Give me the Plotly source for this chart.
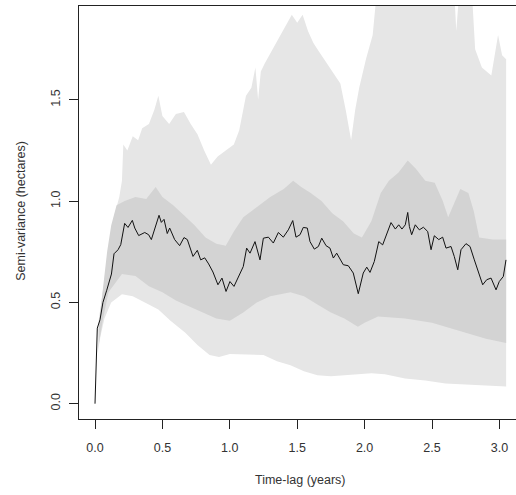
import plotly.graph_objects as go

# Mean semi-variance curve
lag = [0.0, 0.005, 0.013, 0.017, 0.037, 0.059, 0.087, 0.122, 0.141, 0.171, 0.191, 0.220, 0.245, 0.277, 0.295,
       0.324, 0.369, 0.398, 0.418, 0.443, 0.475, 0.492, 0.512, 0.536, 0.554, 0.591, 0.628, 0.660, 0.685, 0.727,
       0.759, 0.784, 0.814, 0.843, 0.875, 0.912, 0.942, 0.972, 1.001, 1.031, 1.063, 1.100, 1.125, 1.150, 1.187,
       1.224, 1.249, 1.286, 1.323, 1.360, 1.397, 1.434, 1.467, 1.491, 1.521, 1.545, 1.575, 1.595, 1.627, 1.657,
       1.682, 1.714, 1.743, 1.768, 1.793, 1.818, 1.842, 1.879, 1.916, 1.953, 1.990, 2.016, 2.040, 2.072, 2.105,
       2.134, 2.164, 2.196, 2.228, 2.253, 2.277, 2.302, 2.320, 2.332, 2.349, 2.376, 2.406, 2.436, 2.468, 2.493,
       2.517, 2.550, 2.579, 2.604, 2.641, 2.665, 2.691, 2.715, 2.752, 2.782, 2.814, 2.846, 2.876, 2.906, 2.938,
       2.975, 2.999, 3.029, 3.049]
semivar = [0.0, 0.094, 0.275, 0.373, 0.414, 0.50, 0.56, 0.64, 0.74, 0.76, 0.785, 0.89, 0.87, 0.905, 0.867,
           0.83, 0.845, 0.834, 0.81, 0.86, 0.93, 0.895, 0.91, 0.84, 0.867, 0.81, 0.78, 0.82, 0.81, 0.727,
           0.757, 0.71, 0.72, 0.69, 0.65, 0.587, 0.62, 0.554, 0.603, 0.579, 0.628, 0.677, 0.768, 0.743, 0.80,
           0.71, 0.817, 0.822, 0.793, 0.845, 0.822, 0.858, 0.904, 0.822, 0.834, 0.87, 0.867, 0.80, 0.763, 0.776,
           0.817, 0.78, 0.768, 0.719, 0.743, 0.71, 0.686, 0.681, 0.645, 0.543, 0.645, 0.674, 0.648, 0.702, 0.80,
           0.784, 0.842, 0.894, 0.862, 0.883, 0.862, 0.883, 0.944, 0.875, 0.834, 0.883, 0.858, 0.871, 0.85, 0.76,
           0.829, 0.81, 0.822, 0.768, 0.776, 0.727, 0.661, 0.76, 0.79, 0.776, 0.71, 0.645, 0.587, 0.612, 0.62,
           0.562, 0.603, 0.628, 0.71]

# Outer envelope (light grey)
outer_up_x = [0.02, 0.04, 0.07, 0.10, 0.14, 0.18, 0.20, 0.21, 0.24, 0.28, 0.32, 0.35, 0.40, 0.44, 0.47, 0.50,
              0.55, 0.60, 0.66, 0.71, 0.76, 0.81, 0.86, 0.91, 0.97, 1.03, 1.07, 1.12, 1.16, 1.19, 1.21, 1.23,
              1.26, 1.31, 1.36, 1.41, 1.46, 1.50, 1.54, 1.58, 1.62, 1.66, 1.70, 1.76, 1.82, 1.86, 1.90, 1.93,
              1.96, 2.01, 2.06, 2.10, 2.66, 2.68, 2.71, 2.79, 2.82, 2.87, 2.94, 2.99, 3.02, 3.05]
outer_up_y = [0.38, 0.47, 0.60, 0.75, 0.92, 1.02, 1.10, 1.28, 1.25, 1.32, 1.30, 1.36, 1.38, 1.45, 1.52, 1.42,
              1.38, 1.43, 1.44, 1.38, 1.33, 1.25, 1.18, 1.22, 1.25, 1.28, 1.35, 1.52, 1.56, 1.66, 1.50, 1.64,
              1.68, 1.74, 1.80, 1.86, 1.92, 1.88, 1.92, 1.84, 1.78, 1.74, 1.70, 1.64, 1.58, 1.45, 1.30, 1.45,
              1.56, 1.70, 1.82, 2.10, 2.10, 1.84, 2.10, 2.10, 1.75, 1.66, 1.62, 1.82, 1.72, 1.70]
outer_lo_x = [0.02, 0.04, 0.07, 0.12, 0.20, 0.28, 0.37, 0.47, 0.56, 0.67, 0.76, 0.85, 0.92, 1.00, 1.10, 1.25,
              1.35, 1.45, 1.55, 1.65, 1.75, 1.85, 1.95, 2.05, 2.15, 2.30, 2.45, 2.60, 2.75, 2.90, 3.05]
outer_lo_y = [0.25, 0.33, 0.42, 0.50, 0.54, 0.53, 0.50, 0.465, 0.41, 0.35, 0.29, 0.24, 0.23, 0.245, 0.245, 0.24,
              0.21, 0.19, 0.16, 0.14, 0.135, 0.14, 0.145, 0.15, 0.145, 0.125, 0.115, 0.10, 0.095, 0.09, 0.085]

# Inner envelope (darker grey)
inner_up_x = [0.03, 0.06, 0.09, 0.12, 0.16, 0.22, 0.30, 0.38, 0.45, 0.50, 0.58, 0.66, 0.74, 0.82, 0.90, 0.97,
              1.03, 1.10, 1.20, 1.30, 1.40, 1.47, 1.53, 1.60, 1.68, 1.76, 1.84, 1.92, 1.98, 2.05, 2.12, 2.18,
              2.25, 2.32, 2.38, 2.45, 2.52, 2.58, 2.62, 2.67, 2.71, 2.77, 2.81, 2.85, 2.95, 3.05]
inner_up_y = [0.40, 0.58, 0.75, 0.88, 0.98, 1.00, 1.02, 1.01, 1.07, 1.02, 0.98, 0.93, 0.88, 0.82, 0.79, 0.78,
              0.85, 0.92, 0.97, 1.02, 1.06, 1.10, 1.07, 1.04, 1.00, 0.94, 0.90, 0.84, 0.82, 0.90, 1.04, 1.10,
              1.14, 1.20, 1.16, 1.10, 1.09, 1.00, 0.92, 1.00, 1.06, 1.04, 0.95, 0.82, 0.81, 0.81]
inner_lo_x = [0.03, 0.06, 0.10, 0.20, 0.30, 0.40, 0.50, 0.60, 0.70, 0.80, 0.90, 1.00, 1.10, 1.20, 1.30, 1.45,
              1.55, 1.65, 1.75, 1.85, 1.95, 2.00, 2.10, 2.30, 2.50, 2.60, 2.70, 2.80, 2.90, 3.05]
inner_lo_y = [0.30, 0.42, 0.55, 0.64, 0.63, 0.58, 0.55, 0.51, 0.48, 0.45, 0.42, 0.41, 0.45, 0.50, 0.53, 0.55,
              0.53, 0.49, 0.45, 0.42, 0.38, 0.40, 0.43, 0.42, 0.40, 0.38, 0.36, 0.34, 0.32, 0.30]

x_ticks = [0.0, 0.5, 1.0, 1.5, 2.0, 2.5, 3.0]
x_tick_text = ["0.0", "0.5", "1.0", "1.5", "2.0", "2.5", "3.0"]
y_ticks = [0.0, 0.5, 1.0, 1.5]
y_tick_text = ["0.0", "0.5", "1.0", "1.5"]

fig = go.Figure()
fig.add_trace(go.Scatter(x=outer_up_x + outer_lo_x[::-1], y=outer_up_y + outer_lo_y[::-1],
                         fill="toself", fillcolor="#e6e6e6", line=dict(width=0), mode="lines",
                         hoverinfo="skip", showlegend=False))
fig.add_trace(go.Scatter(x=inner_up_x + inner_lo_x[::-1], y=inner_up_y + inner_lo_y[::-1],
                         fill="toself", fillcolor="#d3d3d3", line=dict(width=0), mode="lines",
                         hoverinfo="skip", showlegend=False))
fig.add_trace(go.Scatter(x=lag, y=semivar, mode="lines", line=dict(color="#111111", width=1),
                         showlegend=False))

font = "Liberation Sans, Arial, sans-serif"
fig.update_layout(
    width=516, height=495,
    margin=dict(l=79, r=0, t=6, b=76),
    paper_bgcolor="white", plot_bgcolor="white",
    font=dict(family=font, size=12, color="#333333"),
    xaxis=dict(range=[-0.1187, 3.1231], tickvals=x_ticks, ticktext=x_tick_text,
               showgrid=False, zeroline=False, showline=True, mirror=True,
               linecolor="#222222", linewidth=1, ticks="outside", ticklen=9,
               tickcolor="#222222", tickfont=dict(size=12.5, color="#333333"),
               ticklabelstandoff=8),
    yaxis=dict(range=[-0.0755, 1.963], tickvals=y_ticks, ticktext=y_tick_text,
               showgrid=False, zeroline=False, showline=True, mirror=False,
               linecolor="#222222", linewidth=1, ticks="outside", ticklen=9,
               tickcolor="#222222", tickangle=-90, tickfont=dict(size=12.5, color="#333333"),
               ticklabelstandoff=4),
    annotations=[
        dict(text="Time-lag (years)", xref="paper", yref="paper", x=0.508, y=-0.147,
             xanchor="center", yanchor="middle", showarrow=False,
             font=dict(size=12.5, color="#333333")),
        dict(text="Semi-variance (hectares)", xref="paper", yref="paper", x=-0.133, y=0.504,
             xanchor="center", yanchor="middle", textangle=-90, showarrow=False,
             font=dict(size=12.5, color="#333333")),
    ],
)

fig.write_html("out.html")
